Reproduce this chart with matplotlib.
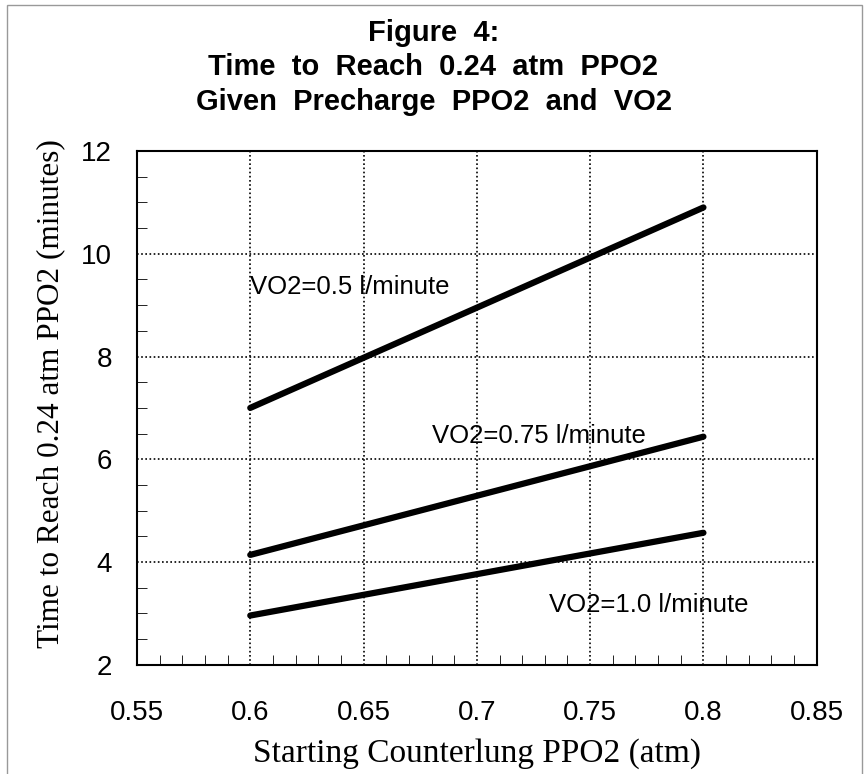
import numpy as np
import matplotlib.pyplot as plt
from matplotlib.ticker import MultipleLocator
from matplotlib.patches import Rectangle

# Data
ppo2 = [0.6, 0.8]
t_05 = [7.0, 10.9]
t_075 = [4.14, 6.44]
t_10 = [2.96, 4.57]
labels = ['VO2=0.5 l/minute', 'VO2=0.75 l/minute', 'VO2=1.0 l/minute']
label_pos = [(0.600, 9.35), (0.680, 6.45), (0.732, 3.17)]

fig = plt.figure(figsize=(8.67, 7.74), dpi=100)
ax = fig.add_axes([0.158, 0.141, 0.784, 0.664])

for y in (t_05, t_075, t_10):
    ax.plot(ppo2, y, color='black', lw=4.5, solid_capstyle='round')

for txt, (x, y) in zip(labels, label_pos):
    ax.text(x, y, txt, fontsize=18.5, family='Liberation Sans', va='center', ha='left')

ax.set_xlim(0.55, 0.85)
ax.set_ylim(2, 12)
ax.xaxis.set_minor_locator(MultipleLocator(0.01))
ax.yaxis.set_major_locator(MultipleLocator(2))
ax.yaxis.set_minor_locator(MultipleLocator(0.5))
ax.set_xticks([0.55, 0.6, 0.65, 0.7, 0.75, 0.8, 0.85])
ax.set_xticklabels(['0.55', '0.6', '0.65', '0.7', '0.75', '0.8', '0.85'])
ax.tick_params(which='both', direction='in', top=False, right=False)
ax.tick_params(axis='x', which='major', length=0, pad=25, labelsize=20)
ax.tick_params(axis='x', which='minor', length=7)
ax.tick_params(axis='y', which='major', length=0, pad=18, labelsize=20)
ax.tick_params(axis='y', which='minor', length=7)
for lab in ax.get_xticklabels() + ax.get_yticklabels():
    lab.set_family('Liberation Sans')

ax.grid(True, which='major', color='black', linestyle=(0, (1, 1.5)), lw=1.2)
for s in ax.spines.values():
    s.set_linewidth(1.5)

ax.set_xlabel('Starting Counterlung PPO2 (atm)', family='Liberation Serif', fontsize=24, labelpad=9)
ax.set_ylabel('Time to Reach 0.24 atm PPO2 (minutes)', family='Liberation Serif', fontsize=22.5)
ax.yaxis.set_label_coords(-0.106, 0.527)

fig.text(0.5, 0.976, 'Figure  4:\nTime  to  Reach  0.24  atm  PPO2\nGiven  Precharge  PPO2  and  VO2',
         ha='center', va='top', fontsize=21, fontweight='bold', family='Liberation Sans',
         linespacing=1.3)

# page frame from the scanned original
fig.patches.append(Rectangle((0.008, -0.01), 0.986, 1.003, transform=fig.transFigure,
                             fill=False, edgecolor='#999999', lw=1))

fig.savefig('out.png', dpi=100)
